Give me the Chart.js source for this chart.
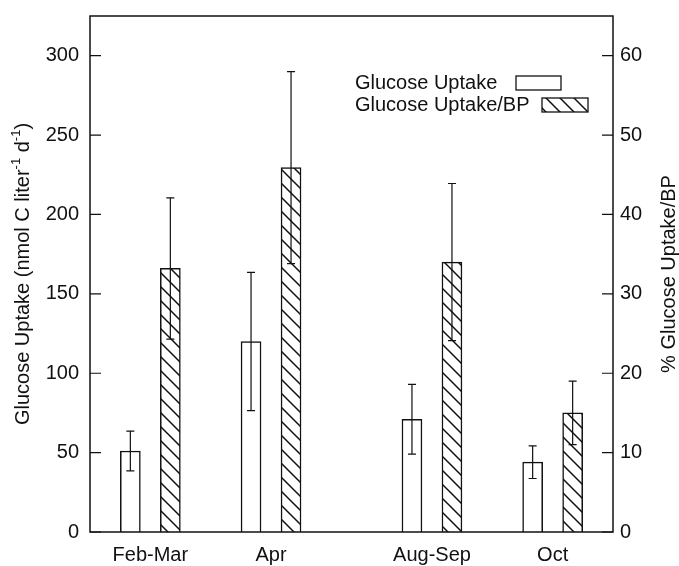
<!DOCTYPE html>
<html><head><meta charset="utf-8">
<script src="https://cdn.jsdelivr.net/npm/chart.js@4/dist/chart.umd.min.js"></script>
<style>html,body{margin:0;padding:0;background:#fff}#wrap{width:679px;height:566px;position:relative}</style>
</head><body><div id="wrap"><canvas id="c" width="679" height="566"></canvas></div>
<script>
// ---- data ----
const categories = ['Feb-Mar', 'Apr', 'Aug-Sep', 'Oct'];
const uptake = [51, 120, 71, 44];          // nmol C liter-1 d-1 (left axis)
const uptakeErr = [12.5, 43.5, 22, 10.3];
const uptakeBP = [33.2, 45.9, 34, 15];     // % (right axis)
const uptakeBPErr = [8.9, 12.1, 9.9, 4];
const leftTicks = [0, 50, 100, 150, 200, 250, 300];
const rightTicks = [0, 10, 20, 30, 40, 50, 60];
const seriesNames = ['Glucose Uptake', 'Glucose Uptake/BP'];
const leftTitle = ['Glucose Uptake (nmol C liter', '-1', ' d', '-1', ')'];
const rightTitle = '% Glucose Uptake/BP';

// ---- layout (not data) ----
const slotIndex = [1, 4, 8, 11];
const slotCount = 13;
const FONT = "'Liberation Sans', Arial, Helvetica, sans-serif";

const labels = Array(slotCount).fill('');
const d0 = Array(slotCount).fill(null), d1 = Array(slotCount).fill(null);
const e0 = Array(slotCount).fill(null), e1 = Array(slotCount).fill(null);
categories.forEach((c, i) => {
  const s = slotIndex[i];
  labels[s] = c; d0[s] = uptake[i]; d1[s] = uptakeBP[i];
  e0[s] = uptakeErr[i]; e1[s] = uptakeBPErr[i];
});

const canvas = document.getElementById('c');
const ctx = canvas.getContext('2d');
function makeHatch() {
  const s = 14, c = document.createElement('canvas');
  c.width = s; c.height = s;
  const x = c.getContext('2d');
  x.fillStyle = '#fff'; x.fillRect(0, 0, s, s);
  x.strokeStyle = '#111'; x.lineWidth = 1.5;
  x.beginPath();
  x.moveTo(-2, -2); x.lineTo(s + 2, s + 2);
  x.moveTo(-2, s - 2); x.lineTo(2, s + 2);
  x.moveTo(s - 2, -2); x.lineTo(s + 2, 2);
  x.stroke();
  return ctx.createPattern(c, 'repeat');
}
const hatch = makeHatch();

const decor = {
  id: 'decor',
  afterDatasetsDraw(chart) {
    const c = chart.ctx;
    const errs = [e0, e1];
    c.save();
    c.strokeStyle = '#111'; c.lineWidth = 1.2;
    chart.data.datasets.forEach((ds, di) => {
      const meta = chart.getDatasetMeta(di);
      const ys = chart.scales[ds.yAxisID];
      meta.data.forEach((el, i) => {
        const v = ds.data[i];
        if (v === null) return;
        const e = errs[di][i];
        const top = ys.getPixelForValue(v + e), bot = ys.getPixelForValue(v - e);
        c.beginPath();
        c.moveTo(el.x, top); c.lineTo(el.x, bot);
        c.moveTo(el.x - 4, top); c.lineTo(el.x + 4, top);
        c.moveTo(el.x - 4, bot); c.lineTo(el.x + 4, bot);
        c.stroke();
      });
    });
    c.restore();
  },
  afterDraw(chart) {
    const c = chart.ctx, a = chart.chartArea;
    c.save();
    // frame
    c.strokeStyle = '#111'; c.lineWidth = 1.5;
    c.strokeRect(a.left, a.top, a.right - a.left, a.bottom - a.top);
    // inside tick marks
    c.lineWidth = 1.2;
    c.beginPath();
    chart.scales.y.ticks.forEach(t => {
      const p = chart.scales.y.getPixelForValue(t.value);
      c.moveTo(a.left, p); c.lineTo(a.left + 11, p);
    });
    chart.scales.y2.ticks.forEach(t => {
      const p = chart.scales.y2.getPixelForValue(t.value);
      c.moveTo(a.right - 11, p); c.lineTo(a.right, p);
    });
    c.stroke();

    c.fillStyle = '#111';
    // left title with superscripts
    const big = '20px ' + FONT, small = '13px ' + FONT;
    c.textBaseline = 'middle';
    let total = 0;
    leftTitle.forEach((t, i) => { c.font = (i % 2 ? small : big); total += c.measureText(t).width; });
    c.save();
    c.translate(23, (a.top + a.bottom) / 2);
    c.rotate(-Math.PI / 2);
    let x = -total / 2;
    leftTitle.forEach((t, i) => {
      c.font = (i % 2 ? small : big);
      c.textAlign = 'left';
      c.fillText(t, x, i % 2 ? -7 : 0);
      x += c.measureText(t).width;
    });
    c.restore();
    // right title (reads bottom-to-top)
    c.save();
    c.font = big;
    c.translate(669, (a.top + a.bottom) / 2);
    c.rotate(-Math.PI / 2);
    c.textAlign = 'center';
    c.fillText(rightTitle, 0, 0);
    c.restore();

    // legend
    c.font = big; c.textAlign = 'left'; c.textBaseline = 'middle';
    const lx = 355;
    const rows = [{y: 83, bx: 516, bw: 45}, {y: 105, bx: 542, bw: 46}];
    seriesNames.forEach((n, i) => {
      const r = rows[i];
      c.fillStyle = '#111';
      c.fillText(n, lx, r.y);
      c.fillStyle = chart.data.datasets[i].backgroundColor;
      c.fillRect(r.bx, r.y - 7, r.bw, 14);
      c.strokeStyle = '#111'; c.lineWidth = 1.3;
      c.strokeRect(r.bx, r.y - 7, r.bw, 14);
    });
    c.restore();
  }
};

function noPad(s) { s.paddingTop = 0; s.paddingBottom = 0; s.paddingLeft = 0; s.paddingRight = 0; }

new Chart(canvas, {
  type: 'bar',
  data: {
    labels: labels,
    datasets: [
      {label: seriesNames[0], data: d0, yAxisID: 'y', backgroundColor: '#fff',
       borderColor: '#111', borderWidth: 1.5},
      {label: seriesNames[1], data: d1, yAxisID: 'y2', backgroundColor: hatch,
       borderColor: '#111', borderWidth: 1.5}
    ]
  },
  options: {
    responsive: false,
    animation: false,
    events: [],
    barThickness: 40,
    maxBarThickness: 20,
    layout: {padding: {top: 16, left: 0, right: 0, bottom: 0}},
    plugins: {legend: {display: false}, tooltip: {enabled: false}},
    scales: {
      x: {
        grid: {display: false, drawTicks: false}, border: {display: false},
        ticks: {autoSkip: false, maxRotation: 0, padding: 11, color: '#111',
                font: {family: FONT, size: 20}},
        afterFit: s => { s.height = 34; noPad(s); }
      },
      y: {
        position: 'left', min: 0, max: 325,
        grid: {display: false, drawTicks: false}, border: {display: false},
        afterBuildTicks: s => { s.ticks = leftTicks.map(v => ({value: v})); },
        ticks: {padding: 11, color: '#111', font: {family: FONT, size: 20}},
        afterFit: s => { s.width = 90; noPad(s); }
      },
      y2: {
        position: 'right', min: 0, max: 65,
        grid: {display: false, drawTicks: false}, border: {display: false},
        afterBuildTicks: s => { s.ticks = rightTicks.map(v => ({value: v})); },
        ticks: {padding: 7, color: '#111', font: {family: FONT, size: 20}},
        afterFit: s => { s.width = 66; noPad(s); }
      }
    }
  },
  plugins: [decor]
});
</script>
</body></html>
